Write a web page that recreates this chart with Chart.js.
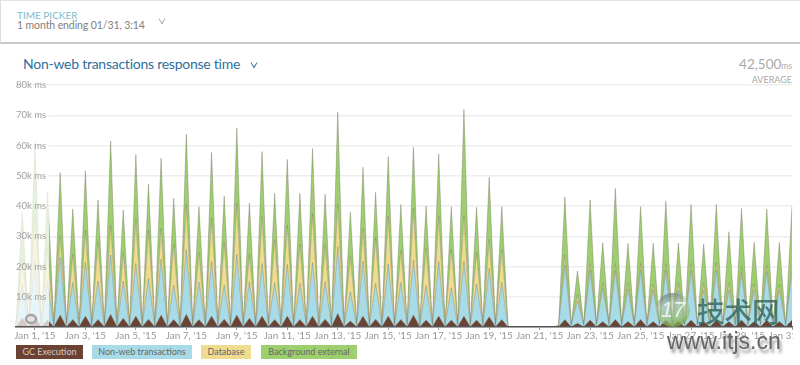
<!DOCTYPE html>
<html lang="en">
<head>
  <meta charset="UTF-8" />
  <title>Non-web transactions response time</title>
  <script src="https://cdn.jsdelivr.net/npm/chart.js"></script>
  <style>
    html, body { margin: 0; padding: 0; background: #fff; }
    body { width: 800px; height: 365px; overflow: hidden; position: relative; font-family: Lato, sans-serif; color: #777; }
    #picker { position: absolute; left: 0; top: 0; width: 800px; height: 44px; box-sizing: border-box; border-top: 1px solid #e4e4e4; border-left: 1px solid #ddd; border-bottom: 2px solid #c9c9c9; }
    #picker .cap { position: absolute; left: 16px; top: 8px; font-size: 10px; color: #7dbccb; }
    #picker .val { position: absolute; left: 16px; top: 18px; font-size: 10.5px; letter-spacing: -0.1px; color: #808080; }
    .chev { position: absolute; width: 5px; height: 5px; border-right: 1px solid #aaa; border-bottom: 1px solid #aaa; transform: rotate(45deg) skew(12deg, 12deg); }
    #title { position: absolute; left: 23px; top: 55px; font-size: 14px; letter-spacing: -0.25px; color: #2d6f9b; }
    #avg { position: absolute; right: 8px; top: 56px; font-size: 13.5px; color: #aaa; }
    #avg small { font-size: 8.5px; }
    #avgCap { position: absolute; right: 8px; top: 74px; font-size: 9px; color: #aaa; }
    #wrap { position: absolute; left: 0; top: 75px; width: 800px; height: 270px; }
    #rightCut { position: absolute; left: 793px; top: 331px; width: 7px; height: 12px; background: #fff; }
    .key { position: absolute; top: 345px; height: 14px; line-height: 14px; font-size: 9px; text-align: center; color: #666; }
    #wmLogo { position: absolute; left: 656px; top: 293px; width: 34px; height: 34px; border-radius: 50%; background: linear-gradient(165deg, rgba(95,110,100,.8) 0%, rgba(175,195,175,.55) 35%, rgba(150,190,110,.7) 70%, rgba(105,150,55,.9) 100%); color: rgba(255,255,255,.75); font: italic 22px/34px "Liberation Sans", sans-serif; text-align: center; }
    #wmText { position: absolute; left: 697px; top: 291px; font: 500 27.5px/38px "Noto Sans CJK SC", sans-serif; color: rgba(50,100,90,.8); }
    #wmUrl { position: absolute; left: 667px; top: 327px; font: 23px/28px "Liberation Sans", sans-serif; color: #666; text-shadow: 2px 4px 3px rgba(80,80,80,.6); }
  </style>
</head>
<body>
  <div id="picker">
    <div class="cap">TIME PICKER</div>
    <div class="val">1 month ending 01/31, 3:14</div>
    <div class="chev" style="left:158px;top:15px"></div>
  </div>
  <div id="title">Non-web transactions response time</div>
  <div class="chev" style="left:251px;top:60px;border-color:#2d6f9b"></div>
  <div id="avg">42,500<small>ms</small></div>
  <div id="avgCap">AVERAGE</div>
  <div id="wrap"><canvas id="chart" width="800" height="270"></canvas></div>
  <div id="rightCut"></div>
  <div class="key" style="left:16px;width:67px;background:#6b4335;color:#d8c8c0">GC Execution</div>
  <div class="key" style="left:92px;width:100px;background:#a8dbe8">Non-web transactions</div>
  <div class="key" style="left:201px;width:50px;background:#f0dc8e">Database</div>
  <div class="key" style="left:261px;width:96px;background:#9ecf6f">Background external</div>
  <div id="wmLogo">17</div>
  <div id="wmText">技术网</div>
  <div id="wmUrl">www.itjs.cn</div>

  <script>
    // k ms, one value every 6 hours: trough, peak, trough, peak ...
    const gcExecution = [
      0.1,3, 0.1,3.5, 0.1,2.3, 0.1,4, 0.1,2.5, 0.1,3.6, 0.1,2.5, 0.1,4.2, 0.1,2.9, 0.1,3.6,
      0.1,2.6, 0.1,4, 0.1,2.5, 0.1,4.2, 0.1,2.5, 0.1,3.6, 0.1,2.6, 0.1,4, 0.1,2.9, 0.1,3.6,
      0.1,2.5, 0.1,3.6, 0.1,2.5, 0.1,3.6, 0.1,2.6, 0.1,4.5, 0.1,2, 0.1,3.6, 0.1,2.6, 0.1,3.6,
      0.1,2.5, 0.1,4, 0.1,2.3, 0.1,3.6, 0.1,2.3, 0.1,3.6, 0.1,2.3, 0.1,3.4, 0.1,2.5,
      0,0, 0,0, 0,0, 0,0, 0.05,2.5,
      0.1,1.2, 0.1,2.3, 0.1,1.8, 0.1,2.5, 0.1,1.8, 0.1,2.5, 0.1,1.8, 0.1,2.3, 0.1,1.8, 0.1,2.3,
      0.1,1.8, 0.1,2.3, 0.1,1.8, 0.1,2.3, 0.1,1.8, 0.1,2.3, 0.1,1.8, 0.1,2.3
    ];
    const nonWebTransactions = [
      0.5,11, 0.5,18.5, 0.5,12.7, 0.5,19, 0.5,12.2, 0.5,17.8, 0.5,12.7, 0.5,19.6, 0.5,12.3, 0.5,17.4,
      0.5,13.4, 0.5,18.4, 0.5,11.4, 0.5,21.3, 0.5,12.4, 0.5,18, 0.5,11.3, 0.5,20, 0.5,12.1, 0.5,17.4,
      0.5,12.2, 0.5,17.1, 0.5,11.9, 0.5,17.7, 0.5,12.4, 0.5,22.1, 0.5,9.7, 0.5,18.2, 0.5,11.8, 0.5,17.2,
      0.5,12.2, 0.5,18.1, 0.5,11.4, 0.5,18, 0.5,10.7, 0.5,18.2, 0.5,11.9, 0.5,16, 0.5,12.3,
      0,0, 0,0, 0,0, 0,0, 0.3,18,
      0.5,7.5, 0.5,16.5, 0.5,11, 0.5,16.3, 0.5,10.8, 0.5,16.3, 0.5,10.4, 0.5,16.5, 0.5,10.4, 0.5,16.3,
      0.5,10.4, 0.5,16.5, 0.5,10.4, 0.5,15.7, 0.5,10.4, 0.5,16, 0.5,10.4, 0.5,16
    ];
    const database = [
      0.2,9, 0.2,15, 0.2,11, 0.2,7, 0.2,9.3, 0.2,10.6, 0.2,12.8, 0.2,9.9, 0.2,9.2, 0.2,14.6,
      0.2,16, 0.2,10.2, 0.2,13.5, 0.2,15.1, 0.2,9.7, 0.2,14.4, 0.2,13.8, 0.2,16.9, 0.2,9, 0.2,15.5,
      0.2,14.1, 0.2,13, 0.2,13, 0.2,16.3, 0.2,12, 0.2,14.1, 0.2,11.6, 0.2,10.8, 0.2,15.2, 0.2,15.7,
      0.2,10.5, 0.2,17.1, 0.2,12.3, 0.2,14.9, 0.2,12.7, 0.2,15, 0.2,10.4, 0.2,9.6, 0.2,10.9,
      0,0, 0,0, 0,0, 0,0, 0.05,3.3,
      0.1,1.9, 0.1,2.2, 0.1,1.6, 0.1,2.2, 0.1,1.8, 0.1,2.2, 0.1,2, 0.1,2.2, 0.1,2.2, 0.1,2.4,
      0.1,2.2, 0.1,2.6, 0.1,2.2, 0.1,2, 0.1,2, 0.1,2.2, 0.1,2, 0.1,2.2
    ];
    const backgroundExternal = [
      0.2,14.8, 0.2,24, 0.2,18.7, 0.2,21, 0.2,15, 0.2,19.6, 0.2,14, 0.2,27.8, 0.2,14.3, 0.2,21.4,
      0.2,15.3, 0.2,23.2, 0.2,15.1, 0.2,23.2, 0.2,15.2, 0.2,21.7, 0.2,15.6, 0.2,24.9, 0.2,17, 0.2,21.5,
      0.2,15.4, 0.2,21.7, 0.2,16.8, 0.2,21.4, 0.2,16.9, 0.2,30.3, 0.2,14.7, 0.2,20.2, 0.2,14.9, 0.2,19.8,
      0.2,15.3, 0.2,20.2, 0.2,14, 0.2,20.7, 0.2,14.1, 0.2,35.2, 0.2,15, 0.2,20.5, 0.2,14.1,
      0,0, 0,0, 0,0, 0,0, 0.05,19.2,
      0.2,7.9, 0.2,21, 0.2,13.5, 0.2,24.8, 0.2,13.3, 0.2,18.8, 0.2,13.5, 0.2,20.6, 0.2,13.3, 0.2,19.5,
      0.2,13, 0.2,19.1, 0.2,17.1, 0.2,19.2, 0.2,13.8, 0.2,18.5, 0.2,13.8, 0.2,19.5
    ];
    const dateTicks = ["Jan 1, '15", "Jan 3, '15", "Jan 5, '15", "Jan 7, '15", "Jan 9, '15", "Jan 11, '15",
      "Jan 13, '15", "Jan 15, '15", "Jan 17, '15", "Jan 19, '15", "Jan 21, '15", "Jan 23, '15",
      "Jan 25, '15", "Jan 27, '15", "Jan 29, '15", "Jan 31, '15"];

    const stroke = "rgba(110,110,90,0.38)";

    function series(label, values, color, fill) {
      return {
        label,
        data: values.map(v => v * 1000),
        backgroundColor: color,
        borderColor: stroke,
        borderWidth: 1,
        pointRadius: 0,
        tension: 0,
        fill
      };
    }

    // faded strip and eye handle on the left of the plot
    const fadeStrip = {
      id: "fadeStrip",
      afterDatasetsDraw(chart) {
        const { ctx, chartArea: a } = chart;
        ctx.save();
        ctx.fillStyle = "rgba(255,255,255,0.72)";
        ctx.fillRect(a.left, a.top, 33, a.bottom - a.top);
        ctx.strokeStyle = "#a5a5a5";
        ctx.lineWidth = 2.5;
        ctx.fillStyle = "#e4e4e4";
        ctx.beginPath();
        ctx.ellipse(31, a.bottom - 8, 5, 4, 0, 0, Math.PI * 2);
        ctx.fill();
        ctx.stroke();
        ctx.restore();
      }
    };

    new Chart(document.getElementById("chart"), {
      type: "line",
      data: {
        labels: gcExecution.map((v, i) => i),
        datasets: [
          series("GC Execution", gcExecution, "#6b4335", "origin"),
          series("Non-web transactions", nonWebTransactions, "#a8dbe8", "-1"),
          series("Database", database, "#f0dc8e", "-1"),
          series("Background external", backgroundExternal, "#9ecf6f", "-1")
        ]
      },
      plugins: [fadeStrip],
      options: {
        responsive: false,
        animation: false,
        layout: { padding: { left: 16, right: 8, top: 10, bottom: 0 } },
        plugins: { legend: { display: false }, tooltip: { enabled: false } },
        scales: {
          x: {
            offset: false,
            afterFit(s) { s.height = 18; s.paddingLeft = 0; s.paddingRight = 0; },
            border: { color: "#555", width: 1.5, z: 1 },
            grid: { drawOnChartArea: false, drawTicks: true, tickLength: 3, color: "#999" },
            ticks: {
              autoSkip: false,
              maxRotation: 0,
              padding: 0,
              color: "#999",
              font: { family: "Lato", size: 10 },
              callback(v, i) { return i % 8 === 3 ? dateTicks[(i - 3) / 8] : null; }
            }
          },
          y: {
            stacked: true,
            min: 0,
            max: 80000,
            afterFit(s) { s.width = 0; },
            border: { display: false },
            grid: { color: "#eee", lineWidth: 1.5, drawTicks: false },
            ticks: {
              mirror: true,
              z: 1,
              padding: 0,
              stepSize: 10000,
              color: "#a0a0a0",
              font: { family: "Lato", size: 9.5 },
              callback(v) { return v === 0 ? "" : (v / 1000) + "k ms"; }
            }
          }
        }
      }
    });
  </script>
</body>
</html>
